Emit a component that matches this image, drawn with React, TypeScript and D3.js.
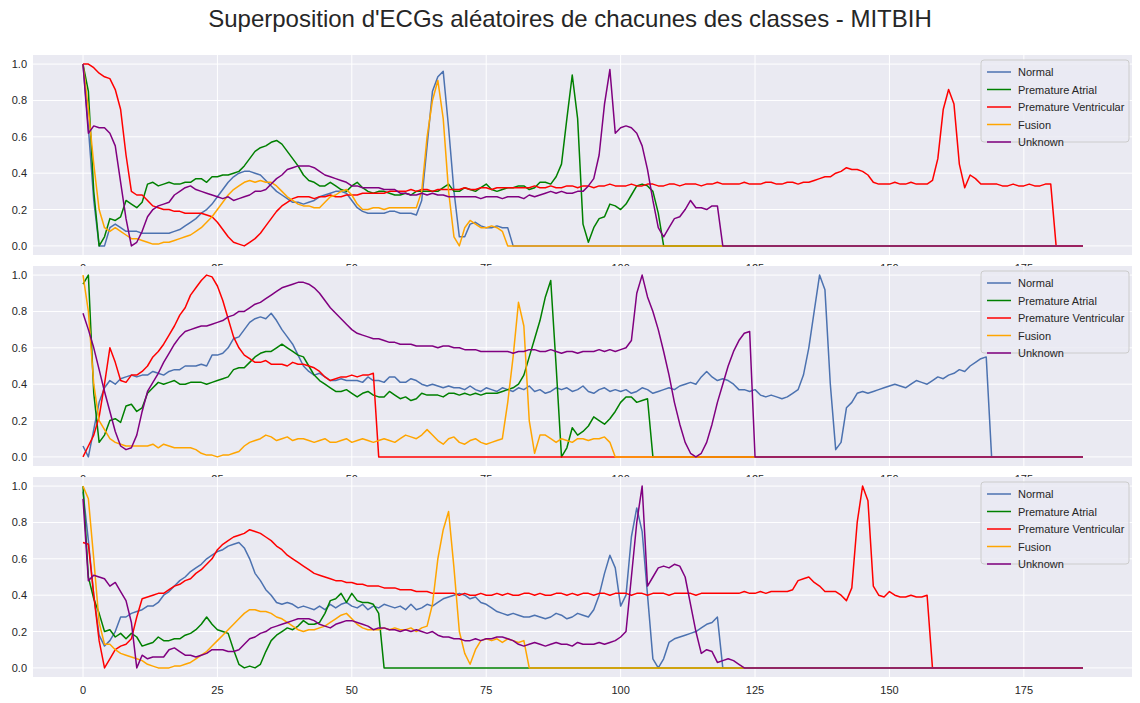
import * as React from 'react'
import * as d3 from 'd3'

const N = 187
const classes = ['Normal', 'Premature Atrial', 'Premature Ventricular', 'Fusion', 'Unknown']
const colors = ['#4c72b0', 'green', 'red', 'orange', 'purple']
const xTicks = [0, 25, 50, 75, 100, 125, 150, 175]
const yTicks = [0, 0.2, 0.4, 0.6, 0.8, 1.0]

const normal1 = [1.0,0.65,0.25,0.0,0.0,0.1,0.12,0.1,0.08,0.08,0.08,0.07,0.07,0.07,0.07,0.07,0.07,0.08,0.09,0.11,0.13,0.15,0.18,0.2,0.23,0.27,0.31,0.35,0.38,0.4,0.41,0.41,0.4,0.39,0.36,0.33,0.3,0.28,0.26,0.24,0.24,0.23,0.24,0.25,0.27,0.28,0.29,0.3,0.3,0.29,0.25,0.21,0.19,0.18,0.18,0.18,0.18,0.19,0.19,0.18,0.18,0.18,0.17,0.25,0.55,0.85,0.93,0.96,0.65,0.3,0.05,0.05,0.12,0.13,0.11,0.1,0.1,0.11,0.1,0.1,0]
const atrial1 = [1.0,0.85,0.3,0.0,0.05,0.15,0.14,0.16,0.25,0.23,0.21,0.24,0.34,0.35,0.33,0.34,0.35,0.34,0.34,0.35,0.35,0.37,0.37,0.35,0.38,0.38,0.39,0.39,0.4,0.41,0.44,0.48,0.52,0.54,0.55,0.57,0.58,0.56,0.52,0.48,0.44,0.39,0.36,0.35,0.33,0.33,0.35,0.33,0.31,0.3,0.33,0.35,0.32,0.3,0.29,0.3,0.3,0.29,0.28,0.28,0.29,0.28,0.3,0.3,0.3,0.3,0.3,0.32,0.34,0.3,0.3,0.32,0.31,0.3,0.32,0.34,0.31,0.3,0.31,0.32,0.32,0.33,0.33,0.31,0.32,0.35,0.35,0.34,0.38,0.45,0.7,0.94,0.7,0.12,0.02,0.1,0.15,0.16,0.23,0.22,0.2,0.23,0.28,0.33,0.34,0.33,0.3,0.18,0]
const ventr1 = [1.0,1.0,0.98,0.95,0.93,0.92,0.86,0.75,0.5,0.3,0.28,0.28,0.25,0.22,0.21,0.2,0.2,0.19,0.19,0.18,0.18,0.18,0.18,0.17,0.16,0.13,0.09,0.05,0.02,0.01,0.0,0.02,0.04,0.07,0.11,0.15,0.19,0.22,0.24,0.26,0.27,0.27,0.27,0.26,0.27,0.27,0.28,0.27,0.27,0.28,0.28,0.28,0.29,0.29,0.29,0.29,0.29,0.3,0.3,0.3,0.3,0.31,0.3,0.31,0.31,0.3,0.31,0.31,0.31,0.31,0.31,0.32,0.31,0.31,0.32,0.32,0.31,0.32,0.32,0.32,0.32,0.32,0.32,0.32,0.33,0.32,0.32,0.33,0.32,0.32,0.33,0.33,0.32,0.33,0.33,0.32,0.33,0.33,0.34,0.33,0.33,0.33,0.34,0.33,0.33,0.34,0.34,0.33,0.33,0.34,0.34,0.33,0.34,0.34,0.34,0.33,0.34,0.34,0.35,0.34,0.34,0.34,0.34,0.35,0.34,0.34,0.34,0.35,0.35,0.34,0.34,0.35,0.35,0.34,0.35,0.35,0.36,0.37,0.38,0.38,0.4,0.41,0.43,0.42,0.42,0.41,0.39,0.35,0.34,0.34,0.34,0.35,0.34,0.34,0.35,0.34,0.34,0.34,0.36,0.48,0.75,0.86,0.78,0.45,0.32,0.39,0.37,0.34,0.34,0.34,0.34,0.33,0.33,0.34,0.33,0.33,0.34,0.33,0.33,0.34,0.34,0]
const fusion1 = [1.0,0.75,0.45,0.2,0.1,0.08,0.1,0.08,0.06,0.04,0.04,0.03,0.02,0.01,0.01,0.02,0.02,0.03,0.04,0.05,0.06,0.08,0.1,0.13,0.16,0.2,0.24,0.28,0.31,0.33,0.35,0.36,0.35,0.36,0.35,0.35,0.33,0.3,0.27,0.25,0.23,0.22,0.22,0.21,0.21,0.24,0.27,0.28,0.3,0.31,0.28,0.23,0.2,0.2,0.21,0.21,0.2,0.21,0.21,0.21,0.21,0.21,0.21,0.3,0.6,0.8,0.91,0.7,0.3,0.05,0.0,0.1,0.14,0.12,0.1,0.1,0.11,0.1,0.08,0]
const unknown1 = [1.0,0.62,0.66,0.65,0.65,0.62,0.55,0.35,0.15,0.0,0.02,0.08,0.16,0.2,0.22,0.23,0.24,0.28,0.3,0.32,0.33,0.31,0.3,0.29,0.28,0.27,0.26,0.27,0.25,0.26,0.27,0.28,0.3,0.3,0.31,0.34,0.37,0.39,0.42,0.43,0.44,0.44,0.44,0.43,0.41,0.39,0.38,0.37,0.36,0.35,0.33,0.33,0.32,0.32,0.32,0.32,0.31,0.31,0.31,0.29,0.29,0.28,0.28,0.29,0.28,0.29,0.28,0.28,0.27,0.27,0.27,0.27,0.27,0.27,0.26,0.27,0.27,0.27,0.26,0.27,0.27,0.27,0.26,0.28,0.27,0.28,0.29,0.3,0.29,0.3,0.29,0.29,0.3,0.3,0.33,0.37,0.5,0.78,0.97,0.62,0.65,0.66,0.65,0.62,0.55,0.42,0.25,0.1,0.05,0.1,0.15,0.16,0.2,0.25,0.21,0.21,0.2,0.22,0.22,0]

const normal2 = [0.06,0.0,0.15,0.3,0.38,0.42,0.4,0.43,0.44,0.45,0.44,0.45,0.45,0.47,0.46,0.45,0.47,0.48,0.48,0.5,0.5,0.5,0.51,0.5,0.56,0.56,0.57,0.6,0.65,0.66,0.7,0.74,0.76,0.77,0.76,0.79,0.75,0.7,0.66,0.62,0.56,0.5,0.47,0.45,0.46,0.44,0.42,0.42,0.43,0.42,0.42,0.42,0.41,0.44,0.42,0.42,0.41,0.44,0.44,0.41,0.41,0.43,0.42,0.4,0.39,0.4,0.39,0.38,0.39,0.38,0.38,0.37,0.39,0.37,0.36,0.38,0.37,0.36,0.38,0.37,0.36,0.38,0.37,0.39,0.36,0.37,0.35,0.36,0.38,0.37,0.38,0.36,0.37,0.39,0.36,0.35,0.37,0.38,0.36,0.37,0.36,0.37,0.35,0.36,0.38,0.37,0.35,0.36,0.37,0.38,0.37,0.39,0.4,0.41,0.4,0.44,0.47,0.44,0.42,0.43,0.42,0.4,0.37,0.37,0.36,0.37,0.34,0.33,0.34,0.33,0.32,0.33,0.35,0.37,0.45,0.6,0.8,1.0,0.92,0.4,0.04,0.08,0.27,0.3,0.35,0.36,0.35,0.36,0.37,0.38,0.39,0.4,0.39,0.38,0.4,0.42,0.41,0.4,0.42,0.44,0.43,0.45,0.46,0.48,0.47,0.5,0.52,0.54,0.55,0]
const atrial2 = [0.95,1.0,0.35,0.08,0.12,0.2,0.21,0.19,0.28,0.29,0.25,0.27,0.35,0.38,0.41,0.4,0.41,0.42,0.4,0.4,0.41,0.41,0.41,0.4,0.41,0.42,0.43,0.44,0.48,0.49,0.49,0.52,0.55,0.57,0.58,0.58,0.6,0.62,0.6,0.58,0.56,0.55,0.5,0.45,0.42,0.4,0.38,0.36,0.36,0.37,0.35,0.33,0.35,0.36,0.34,0.33,0.33,0.36,0.34,0.32,0.33,0.31,0.32,0.35,0.34,0.34,0.34,0.33,0.35,0.35,0.34,0.35,0.34,0.35,0.34,0.35,0.35,0.35,0.36,0.37,0.38,0.4,0.45,0.55,0.65,0.75,0.88,0.97,0.5,0.0,0.05,0.16,0.12,0.14,0.17,0.22,0.2,0.18,0.21,0.25,0.3,0.33,0.33,0.3,0.31,0.32,0]
const ventr2 = [0.0,0.06,0.12,0.22,0.4,0.6,0.52,0.42,0.41,0.45,0.45,0.47,0.5,0.55,0.58,0.62,0.67,0.72,0.78,0.82,0.89,0.93,0.97,1.0,0.99,0.94,0.86,0.76,0.66,0.6,0.56,0.54,0.52,0.52,0.53,0.51,0.51,0.51,0.5,0.52,0.51,0.51,0.5,0.49,0.47,0.44,0.42,0.43,0.44,0.44,0.45,0.44,0.45,0.45,0.46,0]
const fusion2 = [1.0,0.8,0.4,0.2,0.15,0.1,0.08,0.07,0.06,0.06,0.06,0.06,0.06,0.07,0.05,0.07,0.06,0.05,0.05,0.05,0.05,0.04,0.02,0.01,0.01,0.0,0.01,0.01,0.02,0.03,0.06,0.08,0.09,0.1,0.12,0.11,0.09,0.1,0.11,0.09,0.1,0.1,0.09,0.08,0.09,0.1,0.08,0.08,0.09,0.1,0.08,0.09,0.1,0.09,0.08,0.09,0.1,0.09,0.08,0.1,0.12,0.11,0.1,0.12,0.15,0.12,0.09,0.07,0.1,0.11,0.08,0.07,0.09,0.1,0.08,0.07,0.08,0.09,0.1,0.3,0.55,0.85,0.72,0.2,0.02,0.12,0.12,0.1,0.08,0.1,0.09,0.08,0.1,0.1,0.09,0.1,0.1,0.11,0.08,0]
const unknown2 = [0.79,0.7,0.6,0.48,0.36,0.25,0.14,0.06,0.04,0.05,0.12,0.25,0.36,0.41,0.46,0.52,0.57,0.62,0.66,0.69,0.7,0.71,0.72,0.72,0.73,0.74,0.75,0.77,0.78,0.8,0.8,0.82,0.84,0.85,0.87,0.89,0.91,0.93,0.94,0.95,0.96,0.96,0.95,0.93,0.9,0.86,0.82,0.79,0.76,0.73,0.7,0.68,0.67,0.66,0.65,0.65,0.64,0.63,0.63,0.62,0.62,0.62,0.61,0.61,0.61,0.61,0.6,0.61,0.61,0.6,0.6,0.59,0.59,0.59,0.58,0.58,0.58,0.58,0.58,0.58,0.57,0.58,0.58,0.59,0.59,0.58,0.58,0.59,0.58,0.57,0.58,0.58,0.57,0.58,0.58,0.58,0.59,0.58,0.59,0.58,0.59,0.6,0.64,0.9,1.0,0.88,0.8,0.7,0.58,0.45,0.3,0.18,0.08,0.02,0.0,0.02,0.08,0.18,0.3,0.4,0.5,0.58,0.64,0.68,0.69,0]

const normal3 = [0.97,0.7,0.4,0.18,0.12,0.15,0.2,0.28,0.28,0.3,0.31,0.32,0.34,0.34,0.36,0.4,0.42,0.45,0.48,0.5,0.53,0.55,0.57,0.6,0.62,0.64,0.65,0.67,0.68,0.69,0.66,0.6,0.52,0.48,0.43,0.4,0.36,0.35,0.36,0.35,0.33,0.34,0.33,0.32,0.34,0.32,0.35,0.33,0.35,0.36,0.34,0.33,0.35,0.32,0.34,0.33,0.35,0.34,0.33,0.34,0.32,0.35,0.32,0.33,0.35,0.34,0.36,0.38,0.39,0.4,0.41,0.4,0.38,0.39,0.36,0.35,0.33,0.31,0.3,0.29,0.3,0.29,0.28,0.28,0.29,0.28,0.27,0.28,0.3,0.29,0.27,0.28,0.3,0.29,0.28,0.32,0.4,0.52,0.62,0.55,0.34,0.4,0.72,0.88,0.75,0.4,0.05,0.0,0.05,0.14,0.16,0.17,0.18,0.19,0.2,0.22,0.24,0.25,0.28,0]
const atrial3 = [1.0,0.5,0.38,0.3,0.2,0.21,0.17,0.19,0.16,0.19,0.17,0.12,0.13,0.14,0.17,0.15,0.15,0.16,0.16,0.18,0.19,0.21,0.24,0.28,0.24,0.21,0.2,0.19,0.1,0.02,0.0,0.01,0.0,0.02,0.09,0.15,0.18,0.2,0.22,0.21,0.23,0.26,0.24,0.24,0.25,0.3,0.37,0.38,0.41,0.36,0.41,0.37,0.36,0.36,0.35,0.3,0]
const ventr3 = [0.69,0.68,0.4,0.15,0.0,0.05,0.1,0.12,0.13,0.16,0.28,0.38,0.39,0.4,0.41,0.41,0.43,0.45,0.46,0.48,0.49,0.52,0.54,0.57,0.6,0.65,0.68,0.7,0.72,0.73,0.74,0.76,0.75,0.74,0.72,0.7,0.67,0.65,0.62,0.6,0.58,0.56,0.54,0.52,0.51,0.5,0.49,0.48,0.48,0.47,0.47,0.46,0.46,0.45,0.45,0.45,0.44,0.44,0.44,0.43,0.43,0.43,0.42,0.42,0.42,0.41,0.41,0.41,0.41,0.41,0.4,0.41,0.4,0.4,0.41,0.4,0.4,0.41,0.4,0.41,0.4,0.4,0.41,0.41,0.4,0.41,0.4,0.4,0.41,0.41,0.4,0.41,0.4,0.41,0.41,0.4,0.41,0.41,0.4,0.41,0.41,0.41,0.4,0.41,0.41,0.4,0.41,0.41,0.41,0.4,0.41,0.41,0.41,0.41,0.4,0.41,0.41,0.41,0.41,0.41,0.41,0.41,0.41,0.42,0.41,0.41,0.42,0.41,0.42,0.42,0.42,0.42,0.43,0.48,0.49,0.5,0.47,0.45,0.42,0.42,0.42,0.4,0.37,0.44,0.8,1.0,0.92,0.45,0.4,0.39,0.42,0.4,0.39,0.39,0.4,0.39,0.39,0.4,0]
const fusion3 = [1.0,0.93,0.6,0.25,0.13,0.13,0.1,0.08,0.07,0.06,0.05,0.04,0.02,0.01,0.0,0.0,0.0,0.01,0.01,0.02,0.03,0.05,0.07,0.09,0.12,0.15,0.18,0.21,0.24,0.27,0.3,0.32,0.32,0.31,0.31,0.3,0.28,0.27,0.25,0.23,0.21,0.2,0.21,0.21,0.22,0.23,0.25,0.27,0.29,0.3,0.27,0.24,0.22,0.21,0.21,0.21,0.22,0.21,0.22,0.21,0.21,0.22,0.2,0.22,0.23,0.35,0.6,0.76,0.86,0.55,0.2,0.08,0.02,0.1,0.15,0.16,0.15,0.16,0.14,0.16,0.15,0.14,0.15,0]
const unknown3 = [0.93,0.48,0.51,0.5,0.49,0.45,0.47,0.42,0.37,0.25,0.0,0.07,0.05,0.06,0.06,0.06,0.1,0.11,0.09,0.07,0.07,0.06,0.07,0.08,0.1,0.1,0.1,0.09,0.09,0.1,0.13,0.16,0.17,0.19,0.2,0.22,0.23,0.24,0.25,0.26,0.27,0.27,0.27,0.26,0.24,0.23,0.22,0.24,0.25,0.26,0.26,0.25,0.24,0.23,0.21,0.22,0.22,0.21,0.21,0.2,0.21,0.2,0.21,0.2,0.19,0.2,0.18,0.17,0.17,0.16,0.16,0.15,0.15,0.16,0.15,0.16,0.16,0.17,0.17,0.16,0.15,0.13,0.12,0.13,0.14,0.13,0.12,0.13,0.14,0.13,0.13,0.12,0.14,0.13,0.13,0.13,0.14,0.13,0.14,0.15,0.17,0.2,0.5,0.8,1.0,0.45,0.5,0.55,0.56,0.55,0.57,0.56,0.5,0.35,0.2,0.08,0.1,0.09,0.03,0.04,0.05,0.04,0.02,0]

const panels = [
  [normal1, atrial1, ventr1, fusion1, unknown1],
  [normal2, atrial2, ventr2, fusion2, unknown2],
  [normal3, atrial3, ventr3, fusion3, unknown3],
]

// the recorded beats are zero-padded to the fixed length N
const pad = (a: number[]) => a.concat(new Array(Math.max(0, N - a.length)).fill(0))

const W = 1140, H = 703
const left = 33, right = 1133
const tops = [55, 266, 477]
const ph = 200
const font = '"Liberation Sans", Arial, sans-serif'

export default function App() {
  const x = d3.scaleLinear().domain([-9.3, 195.3]).range([left, right])
  return (
    <svg width={W} height={H} style={{ display: 'block', margin: '-8px' }} fontFamily={font}>
      <rect width={W} height={H} fill="white" />
      <text x={W / 2} y={27} textAnchor="middle" fontSize={24} fill="#262626">
        Superposition d'ECGs aléatoires de chacunes des classes - MITBIH
      </text>
      {panels.map((series, p) => {
        const y = d3.scaleLinear().domain([-0.05, 1.05]).range([tops[p] + ph, tops[p]])
        const line = d3.line<number>().x((_, i) => x(i)).y(d => y(d))
        return (
          <g key={p}>
            <rect x={left} y={tops[p]} width={right - left} height={ph} fill="#eaeaf2" />
            {xTicks.map(t => (
              <g key={'x' + t}>
                <line x1={x(t)} x2={x(t)} y1={tops[p]} y2={tops[p] + ph} stroke="white" strokeWidth={1} />
                <text x={x(t)} y={tops[p] + ph + 17} textAnchor="middle" fontSize={11} fill="#262626">{t}</text>
              </g>
            ))}
            {yTicks.map(t => (
              <g key={'y' + t}>
                <line x1={left} x2={right} y1={y(t)} y2={y(t)} stroke="white" strokeWidth={1} />
                <text x={left - 6} y={y(t) + 4} textAnchor="end" fontSize={11} fill="#262626">{t.toFixed(1)}</text>
              </g>
            ))}
            {series.map((s, k) => (
              <path key={k} d={line(pad(s)) || ''} fill="none" stroke={colors[k]} strokeWidth={1.5} strokeLinejoin="round" />
            ))}
            <g transform={`translate(981,${tops[p] + 5})`}>
              <rect width={148} height={82} rx={3} fill="#eaeaf2" fillOpacity={0.8} stroke="#cccccc" />
              {classes.map((c, k) => (
                <g key={c} transform={`translate(0,${12 + k * 17.5})`}>
                  <line x1={6} x2={30} y1={0} y2={0} stroke={colors[k]} strokeWidth={1.5} />
                  <text x={37} y={4} fontSize={11} fill="#262626">{c}</text>
                </g>
              ))}
            </g>
          </g>
        )
      })}
    </svg>
  )
}
